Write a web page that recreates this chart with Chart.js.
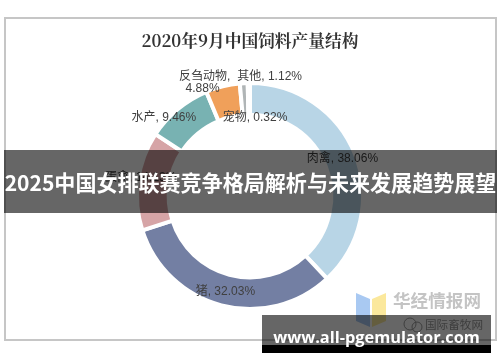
<!DOCTYPE html>
<html>
<head>
<meta charset="utf-8">
<script src="https://cdn.jsdelivr.net/npm/chart.js@4"></script>
<style>
  html, body { margin: 0; padding: 0; background: #fff; }
</style>
</head>
<body>
<canvas id="myChart" width="500" height="362"></canvas>
<script>
// Data
const categories = ['肉禽', '猪', '蛋禽', '水产', '反刍动物', '其他', '宠物'];
const shares = [38.06, 32.03, 14.13, 9.46, 4.88, 1.12, 0.32];
const sliceColors = ['#b8d5e6', '#737fa3', '#d6a4a6', '#78b2b2', '#f0a05a', '#b0b5b6', '#c2d8e6'];
// nudges for the slice labels, away from the middle of the ring
const labelOffsets = [[2, -2], [0, 2], [-13, -5], [-24, -4], [-22, -19], [25, -22], [6, 19]];
const wrapLabels = ['反刍动物'];

const chartTitle = '2020年9月中国饲料产量结构';
const bannerText = '2025中国女排联赛竞争格局解析与未来发展趋势展望';
const siteText = 'www.all-pgemulator.com';

const labelFont = '12px "Liberation Sans", "Noto Sans CJK SC", sans-serif';

// fit a string into a given width by scaling the font size
function fitFont(ctx, text, weight, family, width) {
    ctx.font = weight + ' 20px ' + family;
    const w = ctx.measureText(text).width;
    const size = 20 * width / w;
    ctx.font = weight + ' ' + size.toFixed(2) + 'px ' + family;
}

const decorPlugin = {
    id: 'decor',
    beforeDraw(chart) {
        const ctx = chart.ctx;
        ctx.save();
        ctx.fillStyle = '#fff';
        ctx.fillRect(0, 0, chart.width, chart.height);
        // frame
        ctx.strokeStyle = '#c6c6c6';
        ctx.lineWidth = 2;
        ctx.strokeRect(5, 18, 491, 322);
        // title
        ctx.fillStyle = '#333';
        ctx.textAlign = 'center';
        ctx.textBaseline = 'middle';
        fitFont(ctx, chartTitle, 'bold', '"Noto Serif CJK SC", "Noto Sans CJK SC", serif', 217);
        ctx.fillText(chartTitle, 250, 41);
        ctx.restore();
    },
    afterDraw(chart) {
        const ctx = chart.ctx;
        const meta = chart.getDatasetMeta(0);
        ctx.save();
        // slice labels
        ctx.font = labelFont;
        ctx.fillStyle = '#404040';
        ctx.textAlign = 'center';
        ctx.textBaseline = 'middle';
        meta.data.forEach((arc, i) => {
            const mid = (arc.startAngle + arc.endAngle) / 2;
            const r = (arc.innerRadius + arc.outerRadius) / 2;
            const x = arc.x + Math.cos(mid) * r + labelOffsets[i][0];
            const y = arc.y + Math.sin(mid) * r + labelOffsets[i][1];
            const value = shares[i].toFixed(2) + '%';
            if (wrapLabels.includes(categories[i])) {
                ctx.fillText(categories[i] + ',', x, y - 6);
                ctx.fillText(value, x - 2, y + 6);
            } else {
                ctx.fillText(categories[i] + ', ' + value, x, y);
            }
        });

        // watermark
        ctx.fillStyle = '#a9c9f2';
        ctx.beginPath();
        ctx.moveTo(356, 293); ctx.lineTo(370, 299); ctx.lineTo(370, 327); ctx.lineTo(356, 321);
        ctx.closePath(); ctx.fill();
        ctx.fillStyle = '#fbe89c';
        ctx.beginPath();
        ctx.moveTo(372, 299); ctx.lineTo(386, 293); ctx.lineTo(386, 321); ctx.lineTo(372, 327);
        ctx.closePath(); ctx.fill();
        ctx.fillStyle = '#c4c4c4';
        ctx.textAlign = 'left';
        fitFont(ctx, '华经情报网', 'bold', '"Noto Sans CJK SC", sans-serif', 88);
        ctx.fillText('华经情报网', 393, 300);
        ctx.fillStyle = '#9a9a9a';
        fitFont(ctx, '国际畜牧网', 'normal', '"Noto Sans CJK SC", sans-serif', 58);
        ctx.fillText('国际畜牧网', 425, 325);
        ctx.strokeStyle = '#9a9a9a';
        ctx.lineWidth = 1;
        ctx.beginPath(); ctx.arc(410, 324, 6, 0, Math.PI * 2); ctx.stroke();
        ctx.beginPath(); ctx.arc(417, 327, 5, 0, Math.PI * 2); ctx.stroke();

        // middle banner
        ctx.fillStyle = 'rgba(0, 0, 0, 0.6)';
        ctx.fillRect(4, 150, 493, 63);
        ctx.fillStyle = '#fff';
        ctx.textAlign = 'center';
        fitFont(ctx, bannerText, 'bold', '"Noto Sans CJK SC", sans-serif', 492);
        ctx.fillText(bannerText, 250.5, 183);

        // bottom banner
        ctx.fillStyle = 'rgba(0, 0, 0, 0.6)';
        ctx.fillRect(262, 315, 229, 30);
        ctx.fillStyle = '#000';
        ctx.fillRect(262, 345, 229, 8);
        ctx.fillStyle = '#fff';
        fitFont(ctx, siteText, 'bold', '"Open Sans", "DejaVu Sans", sans-serif', 207);
        ctx.textBaseline = 'alphabetic';
        ctx.fillText(siteText, 376.5, 343);
        ctx.restore();
    }
};

const ctx = document.getElementById('myChart').getContext('2d');

const data = {
    labels: categories,
    datasets: [{
        data: shares,
        backgroundColor: sliceColors,
        borderColor: '#fff',
        borderWidth: 4
    }]
};

const config = {
    type: 'doughnut',
    data: data,
    options: {
        responsive: false,
        animation: false,
        cutout: '72%',
        layout: {
            padding: { top: 81, bottom: 51, left: 0, right: 0 }
        },
        plugins: {
            legend: { display: false },
            tooltip: { enabled: false }
        }
    },
    plugins: [decorPlugin]
};

const myChart = new Chart(ctx, config);
</script>
</body>
</html>
